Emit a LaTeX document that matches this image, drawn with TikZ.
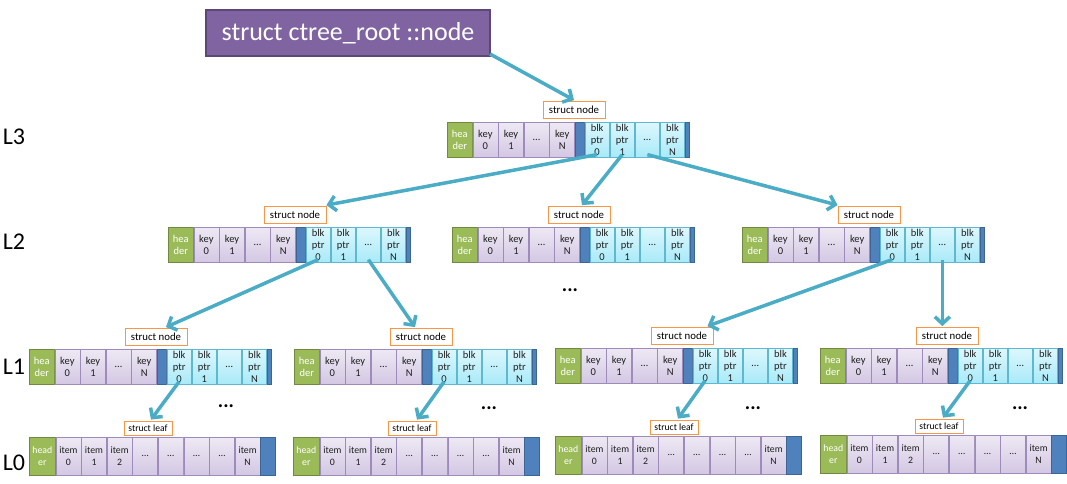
\documentclass[tikz,border=0pt]{standalone}
\usepackage{fontspec}
\setmainfont{Carlito}
\usetikzlibrary{arrows.meta}
\definecolor{hdrgreen}{HTML}{9BBB59}
\definecolor{hdrline}{HTML}{71893F}
\definecolor{keytop}{HTML}{EEE9F4}
\definecolor{keybot}{HTML}{D3C7E3}
\definecolor{keyline}{HTML}{9D8BBB}
\definecolor{blktop}{HTML}{DDF7FD}
\definecolor{blkbot}{HTML}{A8EAF8}
\definecolor{blkline}{HTML}{5FB8D0}
\definecolor{sepblue}{HTML}{4F81BD}
\definecolor{sepline}{HTML}{3A6595}
\definecolor{labline}{HTML}{F79646}
\definecolor{arrowc}{HTML}{4BACC6}
\definecolor{titlefill}{HTML}{8064A2}
\definecolor{titleline}{HTML}{5C4776}
\definecolor{celltext}{HTML}{1F1F1F}
\tikzset{
  x=1pt, y=-1pt,
  cellbase/.style={draw, line width=0.6pt, inner sep=0pt, align=center, anchor=north west, text=celltext},
  ncell/.style={cellbase, minimum height=35pt, font=\fontsize{10.5}{12}\selectfont},
  lcell/.style={cellbase, minimum height=38pt, font=\fontsize{9.8}{12.5}\selectfont},
  hdrc/.style={fill=hdrgreen, draw=hdrline, text=white},
  keyc/.style={top color=keytop, bottom color=keybot, draw=keyline, minimum width=25pt},
  blkc/.style={top color=blktop, bottom color=blkbot, draw=blkline, minimum width=24.5pt},
  sepc/.style={fill=sepblue, draw=sepline},
  nlab/.style={draw=labline, line width=0.9pt, fill=white, inner sep=0pt, minimum width=62pt, minimum height=17pt, font=\fontsize{10.8}{12}\selectfont, anchor=south},
  llab/.style={draw=labline, line width=0.9pt, fill=white, inner sep=0pt, minimum width=48pt, minimum height=14pt, font=\fontsize{9.6}{11}\selectfont, anchor=south},
  lvl/.style={font=\fontsize{24}{28}\selectfont, inner sep=0pt},
  moredots/.style={font=\bfseries\fontsize{20}{24}\selectfont, inner sep=0pt},
  titlebox/.style={fill=titlefill, draw=titleline, line width=2pt, text=white, minimum width=284pt, minimum height=46pt, inner sep=0pt, font=\fontsize{26}{30}\selectfont},
  conn/.style={draw=arrowc, line width=3.5pt, -{Straight Barb[length=7pt,width=15pt]}}
}
\newcommand\mknode[3]{%
  \node[ncell, hdrc, minimum width=25pt] (#1-h) at (#2,#3) {hea\\der};
  \node[ncell, keyc] (#1-k0) at (#1-h.north east) {key\\0};
  \node[ncell, keyc] (#1-k1) at (#1-k0.north east) {key\\1};
  \node[ncell, keyc] (#1-kd) at (#1-k1.north east) {…};
  \node[ncell, keyc] (#1-kN) at (#1-kd.north east) {key\\N};
  \node[ncell, sepc, minimum width=9pt] (#1-s) at (#1-kN.north east) {};
  \node[ncell, blkc] (#1-p0) at (#1-s.north east) {blk\\ptr\\0};
  \node[ncell, blkc] (#1-p1) at (#1-p0.north east) {blk\\ptr\\1};
  \node[ncell, blkc] (#1-pd) at (#1-p1.north east) {…};
  \node[ncell, blkc] (#1-pN) at (#1-pd.north east) {blk\\ptr\\N};
  \node[ncell, sepc, minimum width=4pt] (#1-e) at (#1-pN.north east) {};
  \node[nlab] (#1-lab) at ([xshift=-1pt,yshift=3pt]#1-s.north west) {struct node};
}
\newcommand\mkleaf[3]{%
  \node[lcell, hdrc, minimum width=26pt] (#1-h) at (#2,#3) {head\\er};
  \node[lcell, keyc] (#1-i0) at (#1-h.north east) {item\\0};
  \node[lcell, keyc] (#1-i1) at (#1-i0.north east) {item\\1};
  \node[lcell, keyc] (#1-i2) at (#1-i1.north east) {item\\2};
  \node[lcell, keyc] (#1-d1) at (#1-i2.north east) {…};
  \node[lcell, keyc] (#1-d2) at (#1-d1.north east) {…};
  \node[lcell, keyc] (#1-d3) at (#1-d2.north east) {…};
  \node[lcell, keyc] (#1-d4) at (#1-d3.north east) {…};
  \node[lcell, keyc] (#1-iN) at (#1-d4.north east) {item\\N};
  \node[lcell, sepc, minimum width=15pt] (#1-e) at (#1-iN.north east) {};
  \node[llab] (#1-lab) at ([xshift=119pt,yshift=1.5pt]#1-h.north west) {struct leaf};
}
\begin{document}
\begin{tikzpicture}
\useasboundingbox[fill=white] (0,0) rectangle (1067,483);
\node[titlebox] (title) at (348,33) {struct ctree\_root ::node};
\node[lvl] (lv3) at (14,137) {L3};
\node[lvl] (lv2) at (14,242) {L2};
\node[lvl] (lv1) at (14,367) {L1};
\node[lvl] (lv0) at (14,463) {L0};
\mknode{L3}{447}{122}
\mknode{L2a}{168}{227}
\mknode{L2b}{452}{227}
\mknode{L2c}{742}{227}
\mknode{L1a}{29}{349}
\mknode{L1b}{294}{349}
\mknode{L1c}{555}{348}
\mknode{L1d}{820}{348}
\mkleaf{L0a}{29}{437}
\mkleaf{L0b}{293}{437}
\mkleaf{L0c}{555}{436}
\mkleaf{L0d}{820}{435}
\node[moredots] (dm) at (570,290) {...};
\node[moredots] (da) at (226,406) {...};
\node[moredots] (db) at (489,408) {...};
\node[moredots] (dc) at (753,408) {...};
\node[moredots] (dd) at (1020,408) {...};
\draw[conn] ([xshift=-1pt,yshift=3pt]title.south east) -- ([yshift=1pt]L3-lab.north);
\draw[conn] ([yshift=3pt]L3-p0.south) -- ([yshift=1pt]L2a-lab.north east);
\draw[conn] ([yshift=3pt]L3-p1.south) -- ([xshift=3pt,yshift=1pt]L2b-lab.north);
\draw[conn] ([yshift=3pt]L3-pd.south) -- ([yshift=1pt]L2c-lab.north west);
\draw[conn] ([yshift=3pt]L2a-p0.south) -- ([xshift=10pt,yshift=1pt]L1a-lab.north);
\draw[conn] ([yshift=3pt]L2a-pd.south) -- ([xshift=-6pt,yshift=1pt]L1b-lab.north);
\draw[conn] ([yshift=3pt]L2c-p0.south) -- ([xshift=-6pt,yshift=1pt]L1c-lab.north east);
\draw[conn] ([yshift=3pt]L2c-pd.south) -- ([yshift=1pt]L2c-pd.south |- L1d-lab.north);
\draw[conn] ([yshift=3pt]L1a-p0.south) -- ([xshift=3pt,yshift=1pt]L0a-lab.north);
\draw[conn] ([yshift=3pt]L1b-p0.south) -- ([xshift=5pt,yshift=1pt]L0b-lab.north);
\draw[conn] ([yshift=3pt]L1c-p0.south) -- ([xshift=4pt,yshift=1pt]L0c-lab.north);
\draw[conn] ([yshift=3pt]L1d-p0.south) -- ([xshift=4pt,yshift=1pt]L0d-lab.north);
\end{tikzpicture}
\end{document}
